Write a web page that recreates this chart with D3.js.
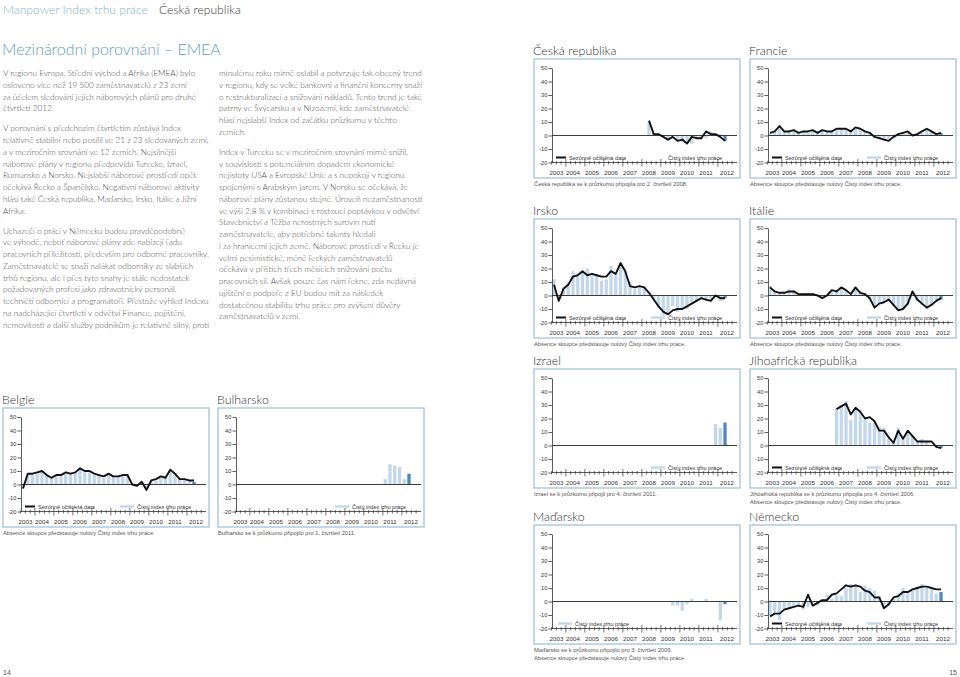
<!DOCTYPE html>
<html><head><meta charset="utf-8">
<script src="https://cdn.jsdelivr.net/npm/d3@7"></script>
<style>body{margin:0;background:#fff}svg{display:block}</style>
</head><body>
<svg id="c" width="960" height="677"></svg>
<script>
// ---------- data ----------
const years = ["2003","2004","2005","2006","2007","2008","2009","2010","2011","2012"];
const yTicks = [50,40,30,20,10,0,-10,-20];
// quarter index 0 = Q2 2003 ... 36 = Q2 2012
const czStart = 20;
const czLine = [11,1,1,-1,-3,-1,-4,-3,-6,-1,-2,-2,3,1,1,-1,-4];
const czBars = [10,2,1,-1,-4,-2,-3,-5,-5,-6,-2,-3,-2,3,1,1,-4];
const frLine = [2,3,7,3,3,4,2,3,3,4,2,4,3,3,5,5,5,3,6,5,3,2,-1,-2,-3,-4,-1,1,2,3,0,1,3,5,3,1,2];
const frBars = [2,3,5,3,4,3,2,3,2,3,3,4,3,3,4,5,5,4,5,4,3,2,-2,-3,-4,-3,-2,1,2,2,1,1,2,4,3,1,2];
const ieLine = [8,-4,5,8,14,15,18,15,16,15,14,14,18,16,24,18,7,6,7,6,2,-3,-8,-12,-14,-11,-10,-10,-8,-6,-4,-2,-3,-4,0,-2,-2];
const ieBars = [12,-2,6,10,18,14,17,20,15,16,11,12,22,15,24,18,10,5,6,7,3,-3,-9,-15,-14,-8,-12,-10,-10,-5,-4,-3,-4,-3,0,-4,-2];
const itLine = [6,3,2,2,3,3,1,1,1,1,0,-2,0,4,3,6,4,1,6,2,1,-2,-9,-6,-5,-3,-7,-11,-10,-6,3,-3,-6,-9,-7,-4,-2];
const itBars = [7,3,2,3,5,4,1,1,2,2,1,-1,0,3,4,5,4,2,5,3,2,-3,-8,-6,-5,-4,-8,-11,-10,-7,0,-4,-7,-10,-7,-5,-3];
const ilStart = 34;
const ilBars = [16,13,17];
const zaStart = 14;
const zaLine = [27,29,31,23,28,25,20,21,18,11,11,6,2,11,5,11,7,3,3,3,3,-1,-2];
const zaBars = [27,30,33,19,27,24,19,17,17,14,13,5,2,13,5,10,8,3,5,3,0,-1,-2];
const huStart = 25;
const huBars = [-3,-3,-7,-2,2,0,0,2,0,0,-14,-2];
const deLine = [-11,-9,-9,-6,-5,-4,-3,-4,5,-3,-1,1,1,5,6,9,12,11,12,11,8,7,3,3,-5,-2,3,4,7,7,9,10,11,11,10,9,9];
const deBars = [-10,-9,-14,-6,-4,-3,-3,-6,-4,-1,-3,0,5,2,5,4,10,13,12,7,12,10,8,4,-3,-3,2,6,10,6,8,11,13,10,9,6,7];
const beLine = [-3,8,8,9,10,7,5,7,7,9,8,9,12,10,10,8,7,6,8,6,6,7,7,0,-1,2,-4,3,4,6,5,11,8,4,4,3,3];
const beBars = [-3,7,7,8,10,7,5,6,6,8,8,9,12,9,9,7,7,5,7,6,6,7,7,0,-1,1,-3,3,3,5,5,10,8,4,4,3,2];
const bgStart = 31;
const bgBars = [4,15,14,13,4,8];

const legLine = "Sezónně očištěná data";
const legBars = "Čistý index trhu práce";
const capZero = "Absence sloupce představuje nulový Čistý index trhu práce.";

const col1 = [
 ["V regionu Evropa, Střední východ a Afrika (EMEA) bylo",
  "osloveno více než 19 500 zaměstnavatelů z 23 zemí",
  "za účelem sledování jejich náborových plánů pro druhé",
  "čtvrtletí 2012."],
 ["V porovnání s předchozím čtvrtletím zůstává Index",
  "relativně stabilní nebo posílil ve 21 z 23 sledovaných zemí,",
  "a v meziročním srovnání ve 12 zemích. Nejsilnější",
  "náborové plány v regionu předpovídá Turecko, Izrael,",
  "Rumunsko a Norsko. Nejslabší náborové prostředí opět",
  "očekává Řecko a Španělsko. Negativní náborové aktivity",
  "hlásí také Česká republika, Maďarsko, Irsko, Itálie a Jižní",
  "Afrika."],
 ["Uchazeči o práci v Německu budou pravděpodobně",
  "ve výhodě, neboť náborové plány zde nabízejí řadu",
  "pracovních příležitostí, především pro odborné pracovníky.",
  "Zaměstnavatelé se snaží nalákat odborníky ze slabších",
  "trhů regionu, ale i přes tyto snahy je stále nedostatek",
  "požadovaných profesí jako zdravotnický personál,",
  "techničtí odborníci a programátoři. Přestože výhled Indexu",
  "na nadcházející čtvrtletí v odvětví Finance, pojištění,",
  "nemovitosti a další služby podnikům je relativně silný, proti"]
];
const col2 = [
 ["minulému roku mírně oslabil a potvrzuje tak obecný trend",
  "v regionu, kdy se velké bankovní a finanční koncerny snaží",
  "o restrukturalizaci a snižování nákladů. Tento trend je také",
  "patrný ve Švýcarsku a v Nizozemí, kde zaměstnavatelé",
  "hlásí nejslabší Index od začátku průzkumu v těchto",
  "zemích."],
 ["Index v Turecku se v meziročním srovnání mírně snížil,",
  "v souvislosti s potenciálním dopadem ekonomické",
  "nejistoty USA a Evropské Unie a s nepokoji v regionu",
  "spojenými s Arabským jarem. V Norsku se očekává, že",
  "náborové plány zůstanou stejné. Úroveň nezaměstnanosti",
  "ve výši 2,8 % v kombinaci s rostoucí poptávkou v odvětví",
  "Stavebnictví a Těžba nerostných surovin nutí",
  "zaměstnavatele, aby potřebné talenty hledali",
  "i za hranicemi jejich země. Náborové prostředí v Řecku je",
  "velmi pesimistické, méně řeckých zaměstnavatelů",
  "očekává v příštích třech měsících snižování počtu",
  "pracovních sil. Avšak pouze čas nám řekne, zda nedávná",
  "ujištění o podpoře z EU budou mít za následek",
  "dostatečnou stabilitu trhu práce pro zvýšení důvěry",
  "zaměstnavatelů v zemi."]
];

// ---------- drawing ----------
const svg = d3.select("#c");
const FONT = "Lato, 'Liberation Sans', Arial, sans-serif";
const SMALL = "'Liberation Sans', Arial, sans-serif";
const BORDER = "#a9c8db", LIGHT = "#c3d6ea", DARK = "#4d88c2";

function fit(text, target, base, fam, weight) {
  const t = svg.append("text").attr("font-family", fam).attr("font-weight", weight || 400)
    .attr("font-size", base).text(text);
  const w = t.node().getComputedTextLength(); t.remove();
  return base * target / w;
}

const bodySize = fit(col1[2][2], 206, 8, FONT, 300);
const titleSize = fit("Mezinárodní porovnání – EMEA", 219, 16, FONT, 300);
const headSize = fit("Manpower Index trhu práce", 145, 11, FONT, 300);
const chartTitleSize = fit("Jihoafrická republika", 108, 12, FONT, 300);
const capSize = fit(capZero, 152, 6, SMALL, 400);
const legSize = fit(legLine, 57, 6, SMALL, 400);

// header
svg.append("text").attr("x", 3).attr("y", 14).attr("font-family", FONT).attr("font-weight", 300)
  .attr("font-size", headSize).attr("fill", "#86afc9").text("Manpower Index trhu práce");
svg.append("text").attr("x", 159).attr("y", 14).attr("font-family", FONT).attr("font-weight", 300)
  .attr("font-size", headSize).attr("fill", "#3a3a3a").text("Česká republika");
svg.append("text").attr("x", 2).attr("y", 55).attr("font-family", FONT).attr("font-weight", 300)
  .attr("font-size", titleSize).attr("fill", "#5f9ac2").text("Mezinárodní porovnání – EMEA");

function drawCol(paras, x0, y0) {
  let yy = y0;
  paras.forEach(p => {
    p.forEach(line => {
      svg.append("text").attr("x", x0).attr("y", yy).attr("font-family", FONT).attr("font-weight", 300)
        .attr("font-size", bodySize).attr("fill", "#4a4a4a").text(line);
      yy += 11.75;
    });
    yy += 8.25;
  });
}
drawCol(col1, 3, 76);
drawCol(col2, 219, 76);

// page numbers
svg.append("text").attr("x", 3).attr("y", 675).attr("font-family", SMALL).attr("font-size", 7).attr("fill", "#555").text("14");
svg.append("text").attr("x", 957).attr("y", 675).attr("text-anchor", "end").attr("font-family", SMALL).attr("font-size", 7).attr("fill", "#555").text("15");

const charts = [
  {title:"Česká republika", x:534, y:59, start:czStart, line:czLine, bars:czBars, legL:true, legR:true, swatch:false, caps:["Česká republika se k průzkumu připojila pro 2. čtvrtletí 2008."]},
  {title:"Francie", x:750, y:59, start:0, line:frLine, bars:frBars, legL:true, legR:true, swatch:true, caps:[capZero]},
  {title:"Irsko", x:534, y:219, start:0, line:ieLine, bars:ieBars, legL:true, legR:true, swatch:true, caps:[capZero]},
  {title:"Itálie", x:750, y:219, start:0, line:itLine, bars:itBars, legL:true, legR:true, swatch:true, caps:[capZero]},
  {title:"Izrael", x:534, y:369, start:ilStart, line:null, bars:ilBars, legL:false, legR:true, swatch:true, caps:["Izrael se k průzkumu připojil pro 4. čtvrtletí 2011."]},
  {title:"Jihoafrická republika", x:750, y:369, start:zaStart, line:zaLine, bars:zaBars, legL:true, legR:true, swatch:true, caps:["Jihoafrická republika se k průzkumu připojila pro 4. čtvrtletí 2006.", capZero]},
  {title:"Maďarsko", x:534, y:525, start:huStart, line:null, bars:huBars, legL:false, legR:false, legBarsLeft:true, swatch:true, caps:["Maďarsko se k průzkumu připojilo pro 3. čtvrtletí 2009.", capZero]},
  {title:"Německo", x:750, y:525, start:0, line:deLine, bars:deBars, legL:true, legR:true, swatch:true, caps:[]},
  {title:"Belgie", x:3, y:408, start:0, line:beLine, bars:beBars, legL:true, legR:true, swatch:true, caps:[capZero]},
  {title:"Bulharsko", x:218, y:408, start:bgStart, line:null, bars:bgBars, legL:false, legR:true, swatch:true, caps:["Bulharsko se k průzkumu připojilo pro 1. čtvrtletí 2011."]}
];

function drawChart(c) {
  const g = svg.append("g");
  const bx = c.x, by = c.y, ax = bx + 18, ex = bx + 203;
  const x = d3.scaleLinear().domain([0, 36]).range([ax + 2, ax + 173]);
  const y = d3.scaleLinear().domain([-20, 50]).range([by + 103.5, by + 9]);

  g.append("text").attr("x", bx - 1).attr("y", by - 4).attr("font-family", FONT).attr("font-weight", 300)
    .attr("font-size", chartTitleSize).attr("fill", "#333").text(c.title);
  g.append("rect").attr("x", bx).attr("y", by).attr("width", 206).attr("height", 119)
    .attr("fill", "none").attr("stroke", BORDER).attr("stroke-width", 1.4);

  // bars
  g.selectAll("rect.bar").data(c.bars).join("rect").attr("class", "bar")
    .attr("x", (d, i) => x(c.start + i) - 1.65).attr("width", 3.3)
    .attr("y", d => y(Math.max(0, d))).attr("height", d => Math.abs(y(d) - y(0)))
    .attr("fill", (d, i) => i === c.bars.length - 1 ? DARK : LIGHT);

  // zero line
  g.append("line").attr("x1", ax).attr("x2", ex).attr("y1", y(0)).attr("y2", y(0))
    .attr("stroke", "#3c3c3c").attr("stroke-width", 1.1);

  // seasonally adjusted line
  if (c.line) {
    g.append("path").datum(c.line)
      .attr("d", d3.line().x((d, i) => x(c.start + i)).y(d => y(d)))
      .attr("fill", "none").attr("stroke", "#111").attr("stroke-width", 1.9).attr("stroke-linejoin", "round");
  }

  // y axis
  const ya = g.append("g").attr("transform", `translate(${ax},0)`)
    .call(d3.axisLeft(y).tickValues(yTicks).tickSize(3.5).tickSizeOuter(0).tickPadding(1.2).tickFormat(d => String(d)));
  ya.selectAll("path,line").attr("stroke", "#333").attr("stroke-width", 0.8);
  ya.selectAll("text").attr("font-family", SMALL).attr("font-size", 5.6).attr("fill", "#333");

  // x axis
  const yb = y(-20);
  g.append("line").attr("x1", ax).attr("x2", ex).attr("y1", yb).attr("y2", yb).attr("stroke", "#333").attr("stroke-width", 0.8);
  const qb = d3.range(-0.5, 38.5, 1);
  g.selectAll("line.qt").data(qb).join("line").attr("class", "qt")
    .attr("x1", d => x(d)).attr("x2", d => x(d))
    .attr("y1", d => (Math.round(d - 2.5) % 4 === 0) ? yb - 3.5 : yb - 1.5)
    .attr("y2", d => (Math.round(d - 2.5) % 4 === 0) ? yb + 4 : yb + 2)
    .attr("stroke", "#333").attr("stroke-width", 0.7)
    .filter(d => x(d) > ex).remove();
  g.selectAll("text.yr").data(years).join("text").attr("class", "yr")
    .attr("x", (d, k) => x(4 * k) + (k === 0 ? 2.5 : (k === 9 ? 2 : 0)))
    .attr("y", by + 115.5).attr("text-anchor", "middle")
    .attr("font-family", SMALL).attr("font-size", 6.2).attr("fill", "#333").text(d => d);

  // legends
  const ly = by + 98.5;
  if (c.legL) {
    g.append("line").attr("x1", bx + 22).attr("x2", bx + 32).attr("y1", ly).attr("y2", ly).attr("stroke", "#111").attr("stroke-width", 2);
    g.append("text").attr("x", bx + 35).attr("y", ly + 2).attr("font-family", SMALL).attr("font-size", legSize).attr("fill", "#333").text(legLine);
  }
  if (c.legR) {
    if (c.swatch) g.append("rect").attr("x", bx + 117).attr("y", ly - 1.2).attr("width", 14).attr("height", 2.4).attr("fill", LIGHT);
    g.append("text").attr("x", bx + 134).attr("y", ly + 2).attr("font-family", SMALL).attr("font-size", legSize).attr("fill", "#333").text(legBars);
  }
  if (c.legBarsLeft) {
    g.append("rect").attr("x", bx + 24).attr("y", ly - 1.2).attr("width", 14).attr("height", 2.4).attr("fill", LIGHT);
    g.append("text").attr("x", bx + 41).attr("y", ly + 2).attr("font-family", SMALL).attr("font-size", legSize).attr("fill", "#333").text(legBars);
  }
  // captions
  c.caps.forEach((t, k) => {
    g.append("text").attr("x", bx).attr("y", by + 127 + k * 7.5).attr("font-family", SMALL)
      .attr("font-size", capSize).attr("fill", "#555").text(t);
  });
}
charts.forEach(drawChart);
</script>
</body></html>
